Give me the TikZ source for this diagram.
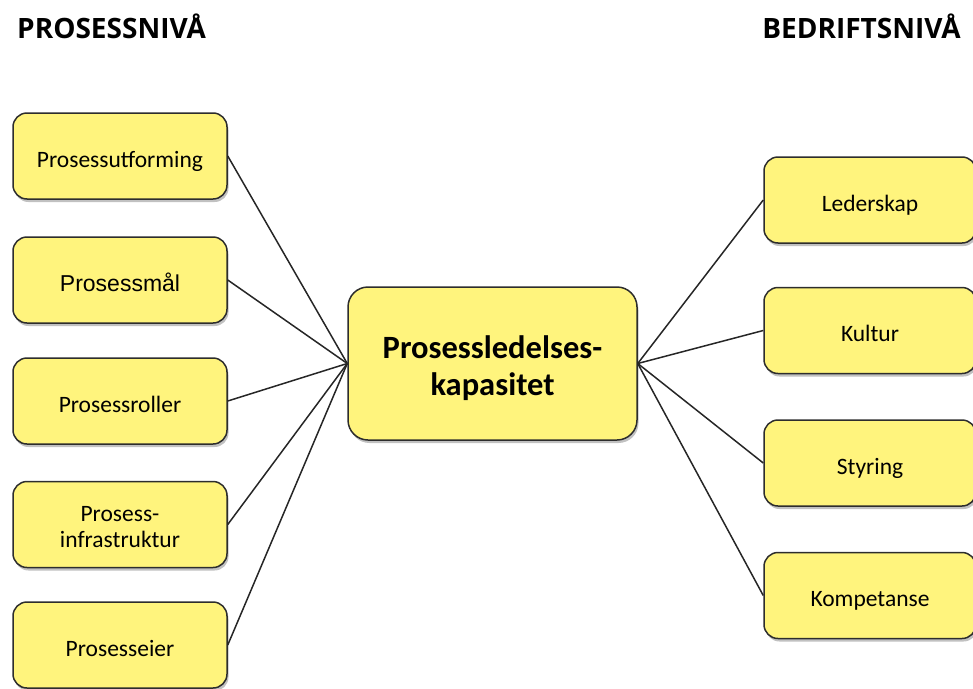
\documentclass[tikz,border=0pt]{standalone}
\usepackage{fontspec}
\setmainfont{Carlito}
\newfontfamily\headfont{Open Sans}
\newfontfamily\arialfont{Liberation Sans}
\usetikzlibrary{shadows}
\definecolor{boxfill}{RGB}{255,244,125}
\definecolor{boxline}{RGB}{45,45,45}
\tikzset{
  card/.style={draw=boxline, line width=1.5pt, fill=boxfill, rounded corners=14pt,
    align=center, inner sep=0pt, text height=22pt, text depth=0pt,
    drop shadow={shadow xshift=1.5pt, shadow yshift=-3pt, opacity=0.35, fill=black!70},
    font=\fontsize{23.5}{26}\selectfont},
  leftcard/.style={card, minimum width=214pt, minimum height=86pt},
  rightcard/.style={card, minimum width=212pt, minimum height=86pt},
  heading/.style={font=\headfont\bfseries\fontsize{28}{32}\selectfont, inner sep=0pt},
  link/.style={line width=1.5pt, draw=black!85}
}
\begin{document}
\begin{tikzpicture}[x=1pt,y=-1pt]
  \useasboundingbox (0,0) rectangle (973,688);
  \clip (0,0) rectangle (973,688);

  % column headings
  \node[heading, anchor=base west] (hl) at (17,38) {PROSESSNIVÅ};
  \node[heading, anchor=base east] (hr) at (961,38) {BEDRIFTSNIVÅ};

  % process level
  \node[leftcard] (p1) at (120,156) {Prosessutforming};
  \node[leftcard, font=\arialfont\fontsize{23}{26}\selectfont] (p2) at (120,280) {Prosessmål};
  \node[leftcard] (p3) at (120,401) {Prosessroller};
  \node[leftcard, text height=45pt] (p4) at (120,524.5) {Prosess-\\infrastruktur};
  \node[leftcard] (p5) at (120,645) {Prosesseier};

  % centre
  \node[card, minimum width=289pt, minimum height=153pt, rounded corners=20pt,
        text height=63pt, font=\bfseries\fontsize{32.5}{37}\selectfont] (c) at (492.5,363.5)
        {Prosessledelses-\\kapasitet};

  % business level
  \node[rightcard] (b1) at (870,200) {Lederskap};
  \node[rightcard] (b2) at (870,330.5) {Kultur};
  \node[rightcard] (b3) at (870,463) {Styring};
  \node[rightcard] (b4) at (870,595.5) {Kompetanse};

  % connectors
  \foreach \n in {p1,p2,p3,p4,p5} \draw[link] (\n.east) -- (c.west);
  \foreach \n in {b1,b2,b3,b4} \draw[link] (c.east) -- (\n.west);
\end{tikzpicture}
\end{document}
